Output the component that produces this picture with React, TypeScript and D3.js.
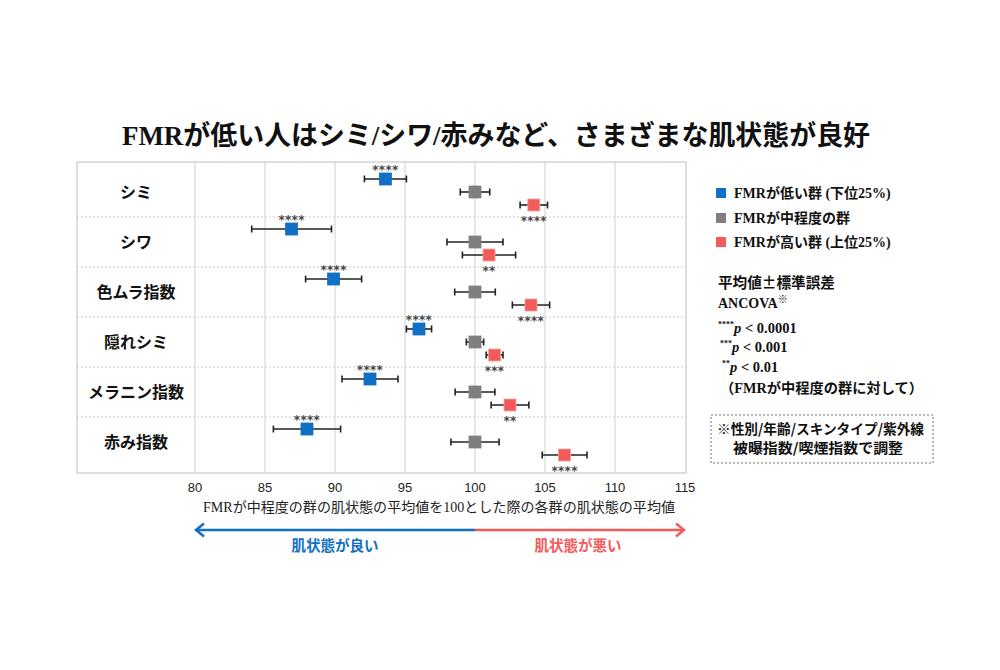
import React from "react";
import * as d3 from "d3";

const categories = ["シミ", "シワ", "色ムラ指数", "隠れシミ", "メラニン指数", "赤み指数"];
const lowMean = [93.6, 86.9, 89.9, 96.0, 92.5, 88.0];
const lowErr = [1.5, 2.85, 2.0, 0.9, 2.0, 2.4];
const midMean = [100, 100, 100, 100, 100, 100];
const midErr = [1.05, 2.0, 1.45, 0.62, 1.42, 1.72];
const highMean = [104.2, 101.0, 104.0, 101.4, 102.5, 106.4];
const highErr = [0.98, 1.9, 1.33, 0.6, 1.35, 1.6];
const lowSig = ["****", "****", "****", "****", "****", "****"];
const highSig = ["****", "**", "****", "***", "**", "****"];
const xTicks = [80, 85, 90, 95, 100, 105, 110, 115];

const BLUE = "#1170c4";
const GRAY = "#7f7f7f";
const RED = "#f35a5a";
const JP = "'Noto Sans CJK JP', sans-serif";
const SERIF = "'Liberation Serif', 'Noto Sans CJK JP', serif";
const SANS = "'Liberation Sans', Arial, sans-serif";
const STAR = "'DejaVu Sans', sans-serif";

export default function App() {
  const x = d3.scaleLinear().domain([80, 115]).range([195, 685]);
  const y = d3.scaleBand<string>().domain(categories).range([167, 467]).padding(0);
  const frameL = 77, frameR = 686, frameT = 162, frameB = 473;
  const off = 13;

  const series = [
    { mean: lowMean, err: lowErr, color: BLUE, stroke: BLUE, dy: -off, sig: lowSig, sigPos: -1 },
    { mean: midMean, err: midErr, color: GRAY, stroke: GRAY, dy: 0, sig: null as string[] | null, sigPos: 0 },
    { mean: highMean, err: highErr, color: RED, stroke: "#ffa0a0", dy: off, sig: highSig, sigPos: 1 },
  ];

  const cy = (c: string) => (y(c) as number) + y.bandwidth() / 2;
  const arrowY = 530;

  return (
    <svg width={1000} height={670} style={{ position: "absolute", left: 0, top: 0, background: "#fff" }}>
      <text x={122} y={145} fontFamily={SERIF} fontWeight={700} fontSize={27} fill="#111"
        textLength={748} lengthAdjust="spacingAndGlyphs">
        FMRが低い人はシミ/シワ/赤みなど、さまざまな肌状態が良好
      </text>

      <rect x={frameL} y={frameT} width={frameR - frameL} height={frameB - frameT} fill="none" stroke="#d4d4d4" strokeWidth={1.5} />
      {xTicks.slice(0, -1).map((t) => (
        <line key={t} x1={x(t)} x2={x(t)} y1={frameT} y2={frameB} stroke="#dadada" strokeWidth={1.3} />
      ))}
      {categories.slice(1).map((c) => (
        <line key={c} x1={frameL} x2={frameR} y1={y(c)} y2={y(c)} stroke="#c8c8c8" strokeWidth={1} strokeDasharray="2,2" />
      ))}
      {categories.map((c) => (
        <text key={c} x={(frameL + x(80)) / 2} y={cy(c) + 6} textAnchor="middle" fontFamily={JP} fontWeight={700} fontSize={16} fill="#111">
          {c}
        </text>
      ))}

      {series.map((s, si) =>
        categories.map((c, i) => {
          const yy = cy(c) + s.dy;
          const x0 = x(s.mean[i] - s.err[i]);
          const x1 = x(s.mean[i] + s.err[i]);
          const xm = x(s.mean[i]);
          return (
            <g key={`${si}-${i}`}>
              <line x1={x0} x2={x1} y1={yy} y2={yy} stroke="#222" strokeWidth={1.6} />
              <line x1={x0} x2={x0} y1={yy - 3.5} y2={yy + 3.5} stroke="#222" strokeWidth={1.6} />
              <line x1={x1} x2={x1} y1={yy - 3.5} y2={yy + 3.5} stroke="#222" strokeWidth={1.6} />
              <rect x={xm - 6} y={yy - 6} width={12} height={12} fill={s.color} stroke={s.stroke} strokeWidth={0.8} />
              {s.sig && (
                <text x={xm} y={yy + s.sigPos * 12.5 + 7} textAnchor="middle" fontFamily={STAR} fontWeight={700} fontSize={12}
                  letterSpacing={0.3} fill="#444">
                  {s.sig[i]}
                </text>
              )}
            </g>
          );
        })
      )}

      {xTicks.map((t) => (
        <text key={t} x={x(t)} y={492} textAnchor="middle" fontFamily={SANS} fontSize={13} fill="#222">
          {t}
        </text>
      ))}
      <text x={203} y={512} fontFamily={SERIF} fontSize={14} fill="#222" textLength={472} lengthAdjust="spacingAndGlyphs">
        FMRが中程度の群の肌状態の平均値を100とした際の各群の肌状態の平均値
      </text>

      <line x1={x(80) + 1} x2={x(100)} y1={arrowY} y2={arrowY} stroke={BLUE} strokeWidth={2.5} />
      <line x1={x(100)} x2={x(115) - 1} y1={arrowY} y2={arrowY} stroke={RED} strokeWidth={2.5} />
      <polyline points={`${x(80) + 9},${arrowY - 6.5} ${x(80) + 1},${arrowY} ${x(80) + 9},${arrowY + 6.5}`} fill="none" stroke={BLUE} strokeWidth={2.5} />
      <polyline points={`${x(115) - 9},${arrowY - 6.5} ${x(115) - 1},${arrowY} ${x(115) - 9},${arrowY + 6.5}`} fill="none" stroke={RED} strokeWidth={2.5} />
      <text x={335} y={551} textAnchor="middle" fontFamily={JP} fontWeight={700} fontSize={14.5} fill={BLUE}>肌状態が良い</text>
      <text x={578} y={551} textAnchor="middle" fontFamily={JP} fontWeight={700} fontSize={14.5} fill={RED}>肌状態が悪い</text>

      {[
        { label: "FMRが低い群 (下位25%)", color: BLUE, y: 193 },
        { label: "FMRが中程度の群", color: GRAY, y: 218 },
        { label: "FMRが高い群 (上位25%)", color: RED, y: 242 },
      ].map((l) => (
        <g key={l.label}>
          <rect x={716} y={l.y - 5} width={10} height={10} fill={l.color} />
          <text x={734} y={l.y + 5} fontFamily={SERIF} fontWeight={700} fontSize={14} fill="#111">{l.label}</text>
        </g>
      ))}
      <text x={718} y={288} fontFamily={JP} fontWeight={700} fontSize={15} fill="#111" textLength={117} lengthAdjust="spacingAndGlyphs">平均値±標準誤差</text>
      <text x={718} y={308} fontFamily={SERIF} fontWeight={700} fontSize={14} fill="#111">
        ANCOVA<tspan fontSize={10} dy={-5} fontWeight={400}>※</tspan>
      </text>
      <text x={718} y={333} fontFamily={SERIF} fontWeight={700} fontSize={14.5} fill="#111">
        <tspan fontSize={8} dy={-6}>****</tspan><tspan dy={6} fontStyle="italic">p</tspan> &lt; 0.0001
      </text>
      <text x={720} y={352} fontFamily={SERIF} fontWeight={700} fontSize={14.5} fill="#111">
        <tspan fontSize={8} dy={-6}>***</tspan><tspan dy={6} fontStyle="italic">p</tspan> &lt; 0.001
      </text>
      <text x={722} y={372} fontFamily={SERIF} fontWeight={700} fontSize={14.5} fill="#111">
        <tspan fontSize={8} dy={-6}>**</tspan><tspan dy={6} fontStyle="italic">p</tspan> &lt; 0.01
      </text>
      <text x={720} y={393} fontFamily={SERIF} fontWeight={700} fontSize={14} fill="#111" textLength={203} lengthAdjust="spacingAndGlyphs">（FMRが中程度の群に対して）</text>

      <rect x={711} y={415} width={222} height={48} fill="none" stroke="#777" strokeWidth={1} strokeDasharray="2,2" />
      <text x={717} y={434} fontFamily={JP} fontWeight={700} fontSize={14} fill="#111" textLength={207} lengthAdjust="spacingAndGlyphs">※性別/年齢/スキンタイプ/紫外線</text>
      <text x={733} y={453} fontFamily={JP} fontWeight={700} fontSize={14} fill="#111" textLength={170} lengthAdjust="spacingAndGlyphs">被曝指数/喫煙指数で調整</text>
    </svg>
  );
}
